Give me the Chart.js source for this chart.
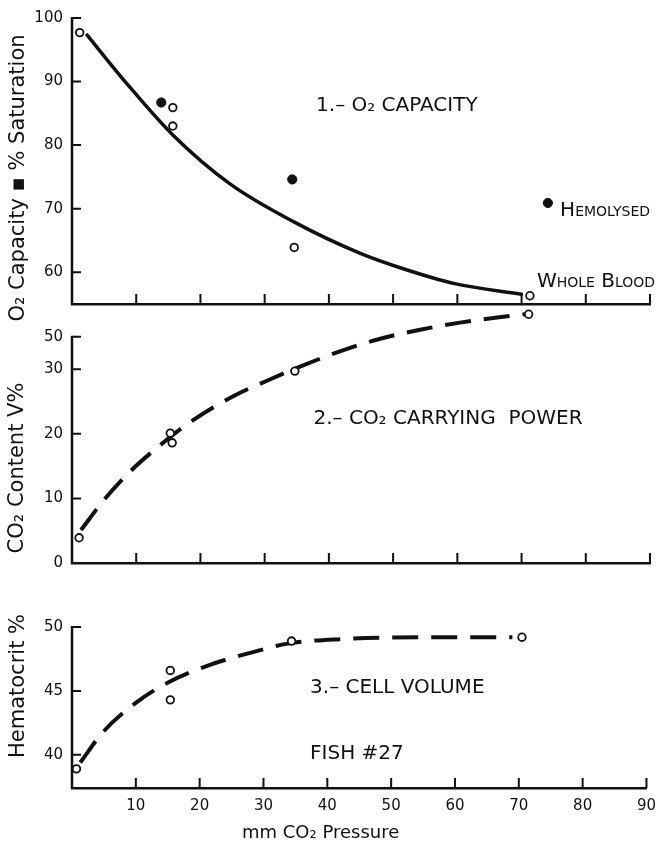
<!DOCTYPE html>
<html><head><meta charset="utf-8">
<script src="https://cdn.jsdelivr.net/npm/chart.js@4/dist/chart.umd.min.js"></script>
<style>
html,body{margin:0;padding:0;background:#fff;width:665px;height:845px;overflow:hidden;position:relative}
canvas{position:absolute;left:0}
#c1{top:0}#c2{top:287px}#c3{top:580px}
</style></head><body>
<canvas id="c1" width="665" height="330"></canvas>
<canvas id="c2" width="665" height="298"></canvas>
<canvas id="c3" width="665" height="265"></canvas>
<script>
// ---- shared x axis (mm CO2 pressure) ----
const pressureTicks = [10, 20, 30, 40, 50, 60, 70, 80, 90];

// ---- panel 1: O2 capacity (open) and % saturation (filled) ----
const o2CapX = [1.2, 15.7, 15.7, 34.6, 71.3];
const o2CapY = [97.7, 85.9, 83.0, 63.9, 56.3];
const o2SatX = [13.9, 34.3, 74.1];
const o2SatY = [86.7, 74.6, 70.9];
const o2CurveX = [2.2, 8.6, 15.7, 24.6, 34.4, 44.8, 51.1, 59.6, 70.2];
const o2CurveY = [97.5, 89.6, 81.6, 73.9, 68.0, 63.0, 60.7, 58.2, 56.5];
const o2Ticks = [60, 70, 80, 90, 100];

// ---- panel 2: CO2 content V% ----
const co2X = [1.1, 15.3, 15.6, 34.7, 71.1];
const co2Y = [3.9, 20.1, 18.6, 29.7, 38.5];
const co2CurveX = [1.4, 5.1, 9.3, 13.2, 18.4, 25.1, 30.8, 35.5, 43.3, 48.0, 54.2, 60.4, 66.2, 70.5];
const co2CurveY = [5.1, 9.9, 14.4, 17.8, 21.8, 25.8, 28.4, 30.4, 33.3, 34.7, 36.1, 37.2, 38.0, 38.5];
const co2Ticks = [0, 10, 20, 30, 35];
const co2TickLabels = ['0', '10', '20', '30', '50'];

// ---- panel 3: hematocrit % ----
const hctX = [0.7, 15.4, 15.4, 34.4, 70.5];
const hctY = [38.9, 46.6, 44.3, 48.9, 49.2];
const hctCurveX = [1.3, 4.9, 10.1, 15.2, 21.4, 28.1, 33.8, 42.0, 55.5, 69.0];
const hctCurveY = [39.4, 41.8, 44.1, 45.7, 47.0, 48.0, 48.7, 49.05, 49.2, 49.2];
const hctTicks = [40, 45, 50];

const INK = '#111';
const FONT = "'DejaVu Sans', 'Liberation Sans', sans-serif";
const pts = (xs, ys) => xs.map((x, i) => ({x, y: ys[i]}));

// y axis line up to the top tick, and ticks drawn pointing into the plot
const inwardTicks = {
  id: 'inwardTicks',
  afterDatasetsDraw(chart) {
    const {ctx, chartArea: {left, bottom}, scales: {x, y}} = chart;
    const yTop = y.getPixelForValue(y.ticks[y.ticks.length - 1].value);
    ctx.save();
    ctx.strokeStyle = INK;
    ctx.lineWidth = 2.5;
    ctx.beginPath(); ctx.moveTo(left, bottom + 1); ctx.lineTo(left, yTop - 1); ctx.stroke();
    ctx.lineWidth = 2;
    ctx.beginPath();
    y.ticks.forEach(t => { const p = y.getPixelForValue(t.value); ctx.moveTo(left, p); ctx.lineTo(left + 9, p); });
    x.ticks.forEach(t => { const p = x.getPixelForValue(t.value); ctx.moveTo(p, bottom); ctx.lineTo(p, bottom - 10); });
    ctx.stroke();
    ctx.restore();
  }
};

const notes = {
  id: 'notes',
  afterDraw(chart, args, opts) {
    const {ctx, scales: {x, y}} = chart;
    (opts.items || []).forEach(it => {
      ctx.save();
      ctx.fillStyle = INK;
      ctx.font = (it.caps ? 'small-caps ' : '') + (it.size || 20) + 'px ' + FONT;
      if (it.caps && 'fontVariantCaps' in ctx) ctx.fontVariantCaps = 'small-caps';
      const px = it.pixel ? it.x : x.getPixelForValue(it.x);
      const py = it.pixel ? it.y : y.getPixelForValue(it.y);
      ctx.translate(px, py);
      if (it.rotate) ctx.rotate(it.rotate);
      ctx.textAlign = it.align || 'left';
      ctx.textBaseline = it.baseline || 'alphabetic';
      ctx.fillText(it.text, 0, 0);
      ctx.restore();
    });
  }
};

function openPoints(xs, ys) {
  return {data: pts(xs, ys), showLine: false, pointRadius: 3.8, pointBorderWidth: 1.8,
          pointBackgroundColor: '#fff', pointBorderColor: INK, clip: false};
}
function curve(xs, ys, dashed, width) {
  return {data: pts(xs, ys), showLine: true, pointRadius: 0, borderColor: INK, borderWidth: width,
          borderDash: dashed ? [26, 13] : [], cubicInterpolationMode: 'monotone', clip: false,
          borderCapStyle: 'butt'};
}

function makeChart(id, datasets, o) {
  return new Chart(document.getElementById(id), {
    type: 'scatter',
    data: {datasets},
    options: {
      responsive: false, animation: false, devicePixelRatio: 1,
      layout: {padding: {left: 0, right: 15, top: o.top, bottom: 0}},
      plugins: {legend: {display: false}, tooltip: {enabled: false}, notes: {items: o.notes}},
      scales: {
        x: {
          type: 'linear', min: 0, max: 90,
          grid: {display: false, drawTicks: false},
          border: {display: true, width: 2.5, color: INK},
          ticks: {display: o.xLabels, padding: 9, color: INK, font: {family: FONT, size: 15}},
          afterBuildTicks: s => { s.ticks = pressureTicks.map(v => ({value: v})); },
          afterFit: s => { s.height = o.xHeight; }
        },
        y: {
          type: 'linear', min: o.yMin, max: o.yMax,
          grid: {display: false, drawTicks: false},
          border: {display: false},
          ticks: {padding: 9, color: INK, font: {family: FONT, size: 15},
                  callback: o.yLabel || (v => String(v))},
          afterBuildTicks: s => { s.ticks = o.yTicks.map(v => ({value: v})); },
          afterFit: s => { s.width = 72; }
        }
      }
    },
    plugins: [inwardTicks, notes]
  });
}

makeChart('c1', [
  openPoints(o2CapX, o2CapY),
  {data: pts(o2SatX, o2SatY), showLine: false, pointRadius: 4.6, pointBorderWidth: 1,
   pointBackgroundColor: INK, pointBorderColor: INK, clip: false},
  curve(o2CurveX, o2CurveY, false, 3.5)
], {
  top: 13, xHeight: 26, yMin: 55, yMax: 100, yTicks: o2Ticks, xLabels: false,
  notes: [
    {text: '1.– O₂ CAPACITY', x: 38.0, y: 85.3},
    {text: 'Hemolysed', x: 76.0, y: 68.8, caps: true},
    {text: 'Whole Blood', x: 72.4, y: 57.6, caps: true},
    {text: 'O₂ Capacity ▪ % Saturation', x: 19, y: 178, pixel: true, size: 21, rotate: -Math.PI / 2, align: 'center', baseline: 'middle'}
  ]
});

makeChart('c2', [
  openPoints(co2X, co2Y),
  curve(co2CurveX, co2CurveY, true, 4)
], {
  top: 24, xHeight: 22, yMin: 0, yMax: 39, yTicks: co2Ticks, xLabels: false,
  yLabel: (v, i) => co2TickLabels[i],
  notes: [
    {text: '2.– CO₂ CARRYING  POWER', x: 37.6, y: 21.5},
    {text: 'CO₂ Content V%', x: 18, y: 181, pixel: true, size: 21, rotate: -Math.PI / 2, align: 'center', baseline: 'middle'}
  ]
});

makeChart('c3', [
  openPoints(hctX, hctY),
  curve(hctCurveX, hctCurveY, true, 4)
], {
  top: 47, xHeight: 57, yMin: 37.4, yMax: 50, yTicks: hctTicks, xLabels: true,
  notes: [
    {text: '3.– CELL VOLUME', x: 37.3, y: 44.84},
    {text: 'FISH #27', x: 37.3, y: 39.67},
    {text: 'Hematocrit %', x: 19, y: 106, pixel: true, size: 21, rotate: -Math.PI / 2, align: 'center', baseline: 'middle'},
    {text: 'mm CO₂ Pressure', x: 242, y: 258, pixel: true, size: 18}
  ]
});
</script>
</body></html>
